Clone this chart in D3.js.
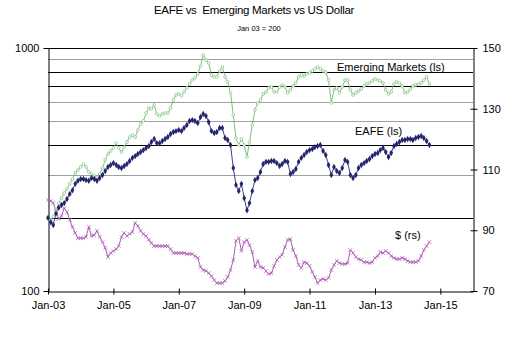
<!DOCTYPE html>
<html>
<head>
<meta charset="utf-8">
<script src="https://cdn.jsdelivr.net/npm/d3@7"></script>
<style>
  body { margin: 0; background: #fff; }
  svg { display: block; font-family: "Liberation Sans", Arial, sans-serif; }
</style>
</head>
<body>
<svg width="510" height="347"></svg>
<script>
// Monthly series, Jan 2003 to Sep 2014 (index, Jan 03 = 200)
var months = d3.timeMonth.range(new Date(2003, 0, 1), new Date(2014, 8, 2));

var eafe = [200,192,187,209,220,226,230,239,251,260,276,284,
            289,289,286,284,292,289,284,292,300,312,324,330,
            336,330,324,321,327,333,343,353,359,366,373,380,
            388,395,410,422,406,406,414,422,430,443,451,455,
            460,455,469,482,501,505,501,491,520,535,525,496,
            455,447,451,469,469,426,418,399,321,273,258,276,
            241,215,230,258,286,292,309,333,340,340,343,343,
            336,327,333,343,340,303,309,318,340,353,363,373,
            380,384,391,395,399,377,363,330,300,324,312,306,
            321,346,340,300,292,300,321,330,336,343,349,359,
            366,370,380,388,373,356,370,395,403,410,418,418,
            422,422,418,426,430,434,426,414,399];

var emerging = [200,196,202,215,230,241,253,263,276,289,306,315,
                324,333,324,309,303,297,294,303,321,346,366,377,
                388,406,388,373,391,410,430,438,430,460,487,501,
                540,566,561,583,535,525,535,540,540,566,611,641,
                647,635,659,685,711,738,753,782,843,936,893,868,
                774,760,760,804,835,760,725,653,530,426,399,422,
                399,356,410,482,556,594,611,647,659,685,691,659,
                659,691,704,691,653,672,698,718,760,774,767,782,
                789,804,820,835,820,804,797,738,594,672,685,653,
                691,738,738,672,641,653,665,678,698,711,718,732,
                746,738,732,718,672,647,659,711,725,718,698,653,
                659,678,698,704,711,718,738,760,711];

var dollar = [100.0,99.6,99.0,96.3,93.7,94.7,97.3,96.0,93.4,91.1,89.1,87.4,
              87.4,87.4,87.8,91.1,88.1,88.4,89.8,87.8,86.1,84.2,81.2,82.5,
              83.2,83.8,84.8,87.8,89.1,88.1,88.8,89.4,92.4,91.4,89.8,88.8,
              88.1,86.8,85.8,84.8,84.8,84.8,84.8,84.8,84.8,83.8,82.5,82.5,
              82.5,82.5,82.5,82.2,82.2,82.2,81.5,80.9,77.9,76.9,76.6,75.9,
              74.9,73.6,72.6,72.6,72.6,73.3,74.6,76.9,80.2,86.5,87.4,83.2,
              86.1,86.8,85.1,82.8,77.9,79.9,77.9,77.6,76.6,75.6,75.9,78.2,
              80.2,81.2,81.9,84.5,86.8,87.1,83.5,81.5,78.6,77.6,79.5,79.2,
              78.2,76.3,74.6,72.6,73.6,74.0,73.6,74.3,76.9,78.6,79.9,79.2,
              78.9,78.9,79.2,83.5,82.5,81.2,80.5,80.2,79.5,79.5,79.2,79.5,
              80.9,81.5,82.8,82.5,83.2,82.5,81.5,80.9,80.5,80.5,80.9,80.5,
              79.9,79.5,79.5,79.5,79.9,81.5,83.5,84.8,86.1];

var leftTicks = [100, 1000];
var rightTicks = [70, 90, 110, 130, 150];
var gridLevels = [200, 300, 400, 500, 600, 700, 800, 900];
var darkGrid = [200, 400, 700, 800];
var xTickLabels = ["Jan-03", "Jan-05", "Jan-07", "Jan-09", "Jan-11", "Jan-13", "Jan-15"];

var svg = d3.select("svg");
var plotLeft = 48, plotRight = 473, plotTop = 48, plotBottom = 291;

var x = d3.scaleTime()
    .domain([new Date(2003, 0, 1), new Date(2016, 0, 1)])
    .range([plotLeft, plotRight]);
var yL = d3.scaleLog().domain([100, 1000]).range([plotBottom, plotTop]);
var yR = d3.scaleLinear().domain([70, 150]).range([plotBottom, plotTop]);

// titles
svg.append("text").attr("x", 254).attr("y", 14).attr("text-anchor", "middle")
    .style("font-size", "11.5px").style("letter-spacing", "-0.3px")
    .style("white-space", "pre")
    .text("EAFE vs  Emerging Markets vs US Dollar");
svg.append("text").attr("x", 259).attr("y", 31).attr("text-anchor", "middle")
    .style("font-size", "7.5px")
    .text("Jan 03 = 200");

// horizontal gridlines on the log scale
svg.append("g").selectAll("line").data(gridLevels).enter().append("line")
    .attr("x1", plotLeft).attr("x2", plotRight)
    .attr("y1", function(d) { return Math.round(yL(d)) + 0.5; })
    .attr("y2", function(d) { return Math.round(yL(d)) + 0.5; })
    .attr("stroke", function(d) { return darkGrid.indexOf(d) >= 0 ? "#000" : "#a0a0a0"; })
    .attr("stroke-width", 1);

// plot frame top
svg.append("line").attr("x1", plotLeft).attr("x2", plotRight)
    .attr("y1", plotTop + 0.5).attr("y2", plotTop + 0.5).attr("stroke", "#000");

// axes
var xAxis = d3.axisBottom(x)
    .tickValues(xTickLabels.map(function(s, i) { return new Date(2003 + i * 2, 0, 1); }))
    .tickFormat(function(d, i) { return xTickLabels[i]; })
    .tickSizeInner(4).tickSizeOuter(0).tickPadding(6);
var gx = svg.append("g").attr("transform", "translate(0," + (plotBottom + 0.5) + ")").call(xAxis);
gx.selectAll(".tick line").attr("y1", -3).attr("y2", 3);

var gl = svg.append("g").attr("transform", "translate(" + (plotLeft + 0.5) + ",0)")
    .call(d3.axisLeft(yL).tickValues(leftTicks).tickFormat(d3.format("d"))
        .tickSizeInner(5).tickSizeOuter(0).tickPadding(4));
gl.selectAll(".tick line").attr("x1", -5).attr("x2", 0);

var gr = svg.append("g").attr("transform", "translate(" + (plotRight + 0.5) + ",0)")
    .call(d3.axisRight(yR).tickValues(rightTicks).tickFormat(d3.format("d"))
        .tickSizeInner(4).tickSizeOuter(0).tickPadding(5));
gr.selectAll(".tick line").attr("x1", -3).attr("x2", 4);

svg.selectAll(".tick text").style("font-size", "11px").attr("fill", "#000");
svg.selectAll(".domain").attr("stroke", "#000");

// series lines
function drawLine(values, yScale, colour) {
    var line = d3.line()
        .x(function(d, i) { return x(months[i]); })
        .y(function(d) { return yScale(d); });
    svg.append("path").datum(values)
        .attr("d", line)
        .attr("fill", "none")
        .attr("stroke", colour)
        .attr("stroke-width", 0.9);
}

drawLine(emerging, yL, "#6fb86f");
drawLine(eafe, yL, "#2a2a80");
drawLine(dollar, yR, "#a04ca0");

// markers
svg.append("g").selectAll("circle").data(emerging).enter().append("circle")
    .attr("cx", function(d, i) { return x(months[i]); })
    .attr("cy", function(d) { return yL(d); })
    .attr("r", 1.4)
    .attr("fill", "#fff")
    .attr("stroke", "#7cc07c")
    .attr("stroke-width", 0.7);

svg.append("g").selectAll("path").data(eafe).enter().append("path")
    .attr("d", d3.symbol().type(d3.symbolDiamond).size(12))
    .attr("transform", function(d, i) { return "translate(" + x(months[i]) + "," + yL(d) + ")"; })
    .attr("fill", "#23236e");

svg.append("g").selectAll("path").data(dollar).enter().append("path")
    .attr("d", "M-1.8,-1.8L1.8,1.8M-1.8,1.8L1.8,-1.8")
    .attr("transform", function(d, i) { return "translate(" + x(months[i]) + "," + yR(d) + ")"; })
    .attr("stroke", "#b060b8")
    .attr("stroke-width", 0.8)
    .attr("fill", "none");

// series labels
svg.append("text").attr("x", 337).attr("y", 71).style("font-size", "11px")
    .text("Emerging Markets (ls)");
svg.append("text").attr("x", 355).attr("y", 135).style("font-size", "11px")
    .text("EAFE (ls)");
svg.append("text").attr("x", 395).attr("y", 239).style("font-size", "11px")
    .text("$ (rs)");
</script>
</body>
</html>
